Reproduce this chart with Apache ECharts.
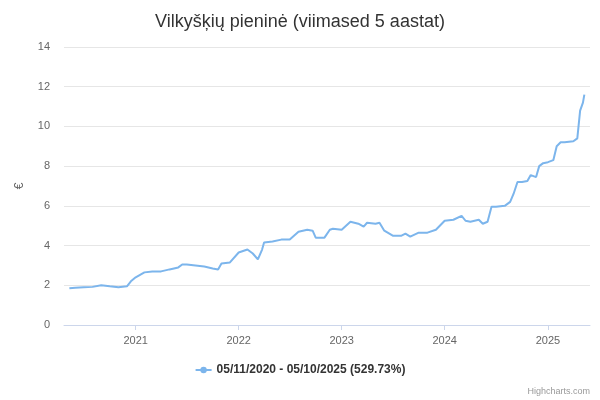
<!DOCTYPE html>
<html><head><meta charset="utf-8">
<script src="https://cdn.jsdelivr.net/npm/echarts@6/dist/echarts.min.js"></script>
<style>html,body{margin:0;padding:0;background:#fff}#c{width:600px;height:400px}</style>
</head><body><div id="c"></div>
<script>
const dates = ["2020-05-11","2020-06-01","2020-07-01","2020-08-01","2020-09-01","2020-10-01","2020-11-01","2020-12-01","2020-12-15","2021-01-01","2021-02-01","2021-03-01","2021-04-01","2021-05-01","2021-06-01","2021-06-15","2021-07-01","2021-08-01","2021-09-01","2021-10-01","2021-10-20","2021-11-01","2021-12-01","2022-01-01","2022-02-01","2022-02-20","2022-03-10","2022-03-25","2022-04-01","2022-05-01","2022-06-01","2022-07-01","2022-08-01","2022-09-01","2022-09-20","2022-10-01","2022-11-01","2022-11-20","2022-12-01","2023-01-01","2023-02-01","2023-03-01","2023-03-20","2023-04-01","2023-05-01","2023-05-15","2023-06-01","2023-07-01","2023-08-01","2023-08-15","2023-09-01","2023-10-01","2023-11-01","2023-12-01","2024-01-01","2024-02-01","2024-03-01","2024-03-15","2024-04-01","2024-05-01","2024-05-15","2024-06-01","2024-06-15","2024-07-01","2024-08-01","2024-08-20","2024-09-01","2024-09-15","2024-10-01","2024-10-20","2024-11-01","2024-11-20","2024-12-01","2024-12-15","2025-01-01","2025-01-20","2025-02-01","2025-02-15","2025-03-01","2025-04-01","2025-04-15","2025-04-25","2025-05-05","2025-05-10"];
const values = [1.85,1.88,1.9,1.92,2.0,1.95,1.9,1.95,2.2,2.4,2.65,2.7,2.7,2.8,2.9,3.05,3.05,3.0,2.95,2.85,2.8,3.1,3.15,3.65,3.8,3.6,3.3,3.8,4.15,4.2,4.3,4.3,4.7,4.8,4.75,4.4,4.4,4.8,4.85,4.8,5.2,5.1,4.95,5.15,5.1,5.15,4.75,4.5,4.5,4.6,4.45,4.65,4.65,4.8,5.25,5.3,5.5,5.25,5.2,5.3,5.1,5.2,5.95,5.95,6.0,6.2,6.6,7.2,7.2,7.25,7.55,7.45,8.0,8.15,8.2,8.3,9.0,9.2,9.2,9.25,9.4,10.8,11.2,11.6];
const yTicks = [0,2,4,6,8,10,12,14];
const ff = '"Liberation Sans", Arial, sans-serif';
const chart = echarts.init(document.getElementById('c'));
chart.setOption({
  animation:false,
  textStyle:{fontFamily:ff},
  title:{text:'Vilkyšķių pieninė (viimased 5 aastat)',left:'center',top:8,textStyle:{fontSize:18,fontWeight:'normal',color:'#333',fontFamily:ff}},
  grid:{left:64,right:10,top:47,bottom:75},
  xAxis:{type:'time',min:'2020-04-22',max:'2025-05-30',
    axisLine:{lineStyle:{color:'#ccd6eb'}},axisTick:{show:true,lineStyle:{color:'#ccd6eb'}},
    splitLine:{show:false},
    axisLabel:{color:'#666',fontSize:11,margin:10,formatter:{year:'{yyyy}',month:'',day:'',hour:'',minute:'',second:'',millisecond:''}}},
  yAxis:{type:'value',min:yTicks[0],max:yTicks[yTicks.length-1],interval:2,name:'€',nameLocation:'middle',nameGap:38,nameRotate:90,nameTextStyle:{color:'#666',fontSize:12},
    axisLine:{show:false},axisTick:{show:false},splitLine:{lineStyle:{color:'#e6e6e6'}},axisLabel:{color:'#666',fontSize:11,margin:14}},
  legend:{bottom:19,itemWidth:16,itemHeight:8,textStyle:{fontWeight:'bold',color:'#333',fontSize:12,fontFamily:ff},data:['05/11/2020 - 05/10/2025 (529.73%)']},
  graphic:[{type:'text',right:10,bottom:4,style:{text:'Highcharts.com',fill:'#999',fontSize:9,fontFamily:ff}}],
  series:[{name:'05/11/2020 - 05/10/2025 (529.73%)',type:'line',showSymbol:false,symbol:'circle',
    lineStyle:{color:'#7cb5ec',width:2},itemStyle:{color:'#7cb5ec'},
    data:dates.map((d,i)=>[d,values[i]])}]
});
</script></body></html>
